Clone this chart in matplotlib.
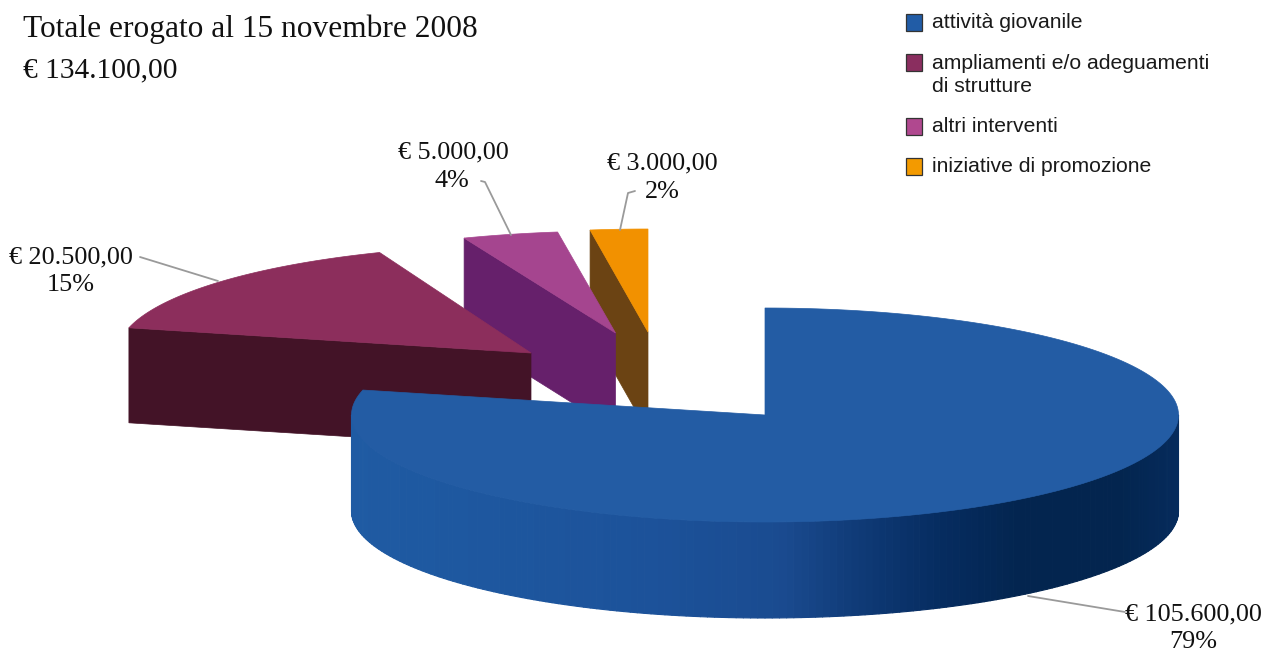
import numpy as np
import matplotlib
matplotlib.use("Agg")
import matplotlib.pyplot as plt
from matplotlib.collections import PolyCollection
from matplotlib.colors import to_rgb
from matplotlib.patches import Polygon, Rectangle

# data
categories = ["attività giovanile", "ampliamenti e/o adeguamenti\ndi strutture",
              "altri interventi", "iniziative di promozione"]
values = [105600.0, 20500.0, 5000.0, 3000.0]
money_labels = ["€ 105.600,00", "€ 20.500,00", "€ 5.000,00", "€ 3.000,00"]
pct_labels = ["79%", "15%", "4%", "2%"]
title_lines = ["Totale erogato al 15 novembre 2008", "€ 134.100,00"]

# style / layout (pixel space of the figure)
W, H = 1270, 651
top_colors = ["#235ca4", "#8c2e5c", "#a5458f", "#f29100"]
side_colors = ["#235ca4", "#431327", "#66206b", "#6b4313"]
legend_colors = ["#215ca6", "#8a2e5f", "#b0488f", "#f39a00"]
centers = [(765, 415), (531, 353), (615.5, 333), (648, 332)]
rx = 413.5
ry = [107, 108, 102, 103]
depth = [96, 95, 97, 100]

fig = plt.figure(figsize=(W / 100, H / 100), dpi=100)
ax = fig.add_axes([0, 0, 1, 1])
ax.set_xlim(0, W)
ax.set_ylim(H, 0)
ax.axis("off")

fracs = np.array(values) / sum(values) * 360
starts = np.concatenate([[0], np.cumsum(fracs)[:-1]])
ends = starts + fracs


def pt(c, a, ry_):
    r = np.radians(a)
    return c[0] + rx * np.sin(r), c[1] - ry_ * np.cos(r)


def blend(x, stops):
    xs = [s[0] for s in stops]
    cols = np.array([to_rgb(s[1]) for s in stops])
    return tuple(np.interp(x, xs, cols[:, i]) for i in range(3))


side_stops = [(351, "#1f5ba3"), (650, "#1c529a"), (780, "#1a4b90"), (860, "#0f3a76"),
              (940, "#062c60"), (1020, "#03254f"), (1120, "#03254f"), (1178, "#062b5c")]

# back to front: orange, purple, maroon, blue
for i in [3, 2, 1, 0]:
    c, a0, a1 = centers[i], starts[i], ends[i]
    if i == 0:
        # outer rim
        seg = np.arange(90, 270.01, 1.0)
        polys, cols = [], []
        for s0, s1 in zip(seg[:-1], seg[1:]):
            x0, y0 = pt(c, s0, ry[i])
            x1, y1 = pt(c, s1, ry[i])
            polys.append([(x0, y0), (x1, y1), (x1, y1 + depth[i]), (x0, y0 + depth[i])])
            cols.append(blend((x0 + x1) / 2, side_stops))
        ax.add_collection(PolyCollection(polys, facecolors=cols, edgecolors=cols, linewidths=0.8, zorder=10))
    else:
        # cut face at the start angle of the wedge
        x0, y0 = pt(c, a0, ry[i])
        ax.add_patch(Polygon([(x0, y0), c, (c[0], c[1] + depth[i]), (x0, y0 + depth[i])],
                             facecolor=side_colors[i], edgecolor=side_colors[i], lw=0.5, zorder=4 + (3 - i) * 2))
    arc = np.linspace(a0, a1, 200)
    pts = [c] + [pt(c, a, ry[i]) for a in arc]
    z = 11 if i == 0 else 5 + (3 - i) * 2
    ax.add_patch(Polygon(pts, facecolor=top_colors[i], edgecolor=top_colors[i], lw=0.5, zorder=z))

# leader lines
leader_x = [[1125, 1028], [140, 218], [481, 485, 511], [635, 628, 620]]
leader_y = [[612, 596], [257, 281], [181, 182, 235], [191, 193, 230]]
for lx, ly in zip(leader_x, leader_y):
    ax.plot(lx, ly, color="#9a9a9a", lw=1.3, zorder=12, solid_capstyle="round")

serif = "Liberation Serif"
sans = "Liberation Sans"
# titles
ax.text(23, 37, title_lines[0], family=serif, fontsize=22.6, color="#111111", va="baseline", ha="left")
ax.text(23, 77, title_lines[1], family=serif, fontsize=21.2, color="#111111", va="baseline", ha="left")

# data labels
money_pos = [(1193, 620), (71, 263), (453, 158), (662, 169)]
pct_pos = [(1193, 648), (71, 291), (452, 187), (662, 198)]
for m, p, mp, pp in zip(money_labels, pct_labels, money_pos, pct_pos):
    ax.text(mp[0], mp[1], m, family=serif, fontsize=18.8, color="#111111", ha="center", va="baseline", zorder=13)
    ax.text(pp[0], pp[1], p, family=serif, fontsize=18.8, color="#111111", ha="center", va="baseline", zorder=13)

# legend
sq_y = [14, 54, 118, 158]
txt_y = [28, 69, 132, 172]
for name, col, sy, ty in zip(categories, legend_colors, sq_y, txt_y):
    ax.add_patch(Rectangle((905.5, sy), 16, 16.5, facecolor=col, edgecolor="#333333", lw=0.9))
    lines = name.split("\n")
    for k, ln in enumerate(lines):
        ax.text(932, ty + k * 23, ln, family=sans, fontsize=15.2, color="#1a1a1a", ha="left", va="baseline")

fig.savefig("out.png", dpi=100, facecolor="white")
